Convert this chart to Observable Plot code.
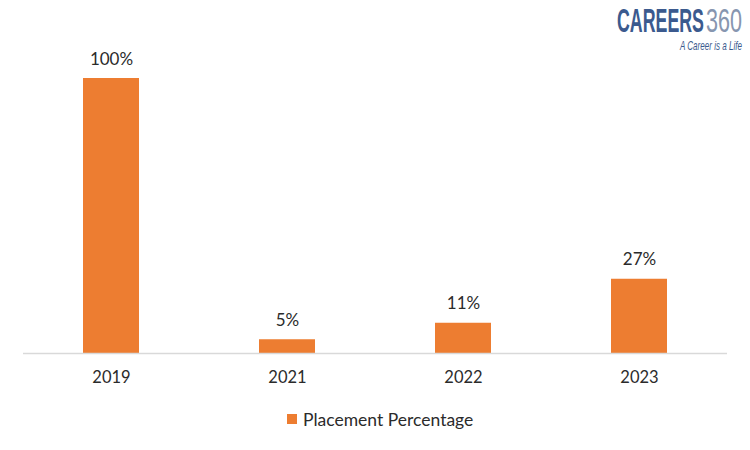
<!DOCTYPE html>
<html><head><meta charset="utf-8">
<script src="https://cdn.jsdelivr.net/npm/d3@7"></script>
<script src="https://cdn.jsdelivr.net/npm/@observablehq/plot@0.6"></script>
<style>
body{margin:0;background:#fff;font-family:Lato,"Noto Sans",sans-serif;}
#wrap{position:relative;width:750px;height:450px;overflow:hidden;background:#fff;}
#legend{position:absolute;left:287px;top:408px;height:22px;display:flex;align-items:center;font-size:17.5px;color:#2b2b2b;white-space:nowrap;}
#legend .sw{width:10px;height:10px;margin-right:6px;}
#logo{position:absolute;left:0;top:0;}
</style></head><body>
<div id="wrap"></div>
<script>
const years = ["2019","2021","2022","2023"];
const placement = [100,5,11,27];
const seriesName = "Placement Percentage";
const barColor = "#ED7D31";
const logoMain = "CAREERS";
const logoNum = "360";
const logoTag = "A Career is a Life";

const data = years.map((y,i)=>({year:y, value:placement[i]}));
const chart = Plot.plot({
  width:750, height:395, marginLeft:23, marginRight:23, marginTop:78, marginBottom:42,
  style:{fontFamily:"Lato, 'Noto Sans', sans-serif", fontSize:"16.5px", color:"#2b2b2b", background:"#fff"},
  x:{domain:years, paddingInner:0.682, paddingOuter:0.341, label:null, tickSize:0, tickPadding:18},
  y:{domain:[0,100], axis:null},
  marks:[
    Plot.barY(data,{x:"year", y:"value", fill:barColor}),
    Plot.ruleY([0],{stroke:"#d9d9d9", strokeWidth:1.5}),
    Plot.text(data,{x:"year", y:"value", text:d=>d.value+"%", lineAnchor:"bottom", dy:-14, fill:"#2b2b2b", fontSize:17})
  ]
});
const wrap = document.getElementById("wrap");
wrap.appendChild(chart);

const legend = document.createElement("div");
legend.id = "legend";
legend.innerHTML = `<div class="sw" style="background:${barColor}"></div><span>${seriesName}</span>`;
wrap.appendChild(legend);

const ns = "http://www.w3.org/2000/svg";
const logo = document.createElementNS(ns,"svg");
logo.setAttribute("id","logo");
logo.setAttribute("width","750"); logo.setAttribute("height","60");
wrap.appendChild(logo);
const fam = "'Liberation Sans Narrow','Liberation Sans',Arial,sans-serif";
function logoText(str, x, y, w, size, weight, style, fill){
  const t = document.createElementNS(ns,"text");
  t.textContent = str;
  t.setAttribute("font-family", fam);
  t.setAttribute("font-size", size);
  t.setAttribute("font-weight", weight);
  t.setAttribute("font-style", style);
  t.setAttribute("fill", fill);
  logo.appendChild(t);
  const len = t.getComputedTextLength();
  t.setAttribute("transform", `translate(${x},${y}) scale(${w/len},1)`);
}
logoText(logoMain, 617, 32, 87, 34, "bold", "normal", "#3b5a8e");
logoText(logoNum, 706, 32, 36, 34, "normal", "normal", "#8796b0");
logoText(logoTag, 680, 50, 62, 13, "normal", "italic", "#3b5a8e");
</script>
</body></html>
